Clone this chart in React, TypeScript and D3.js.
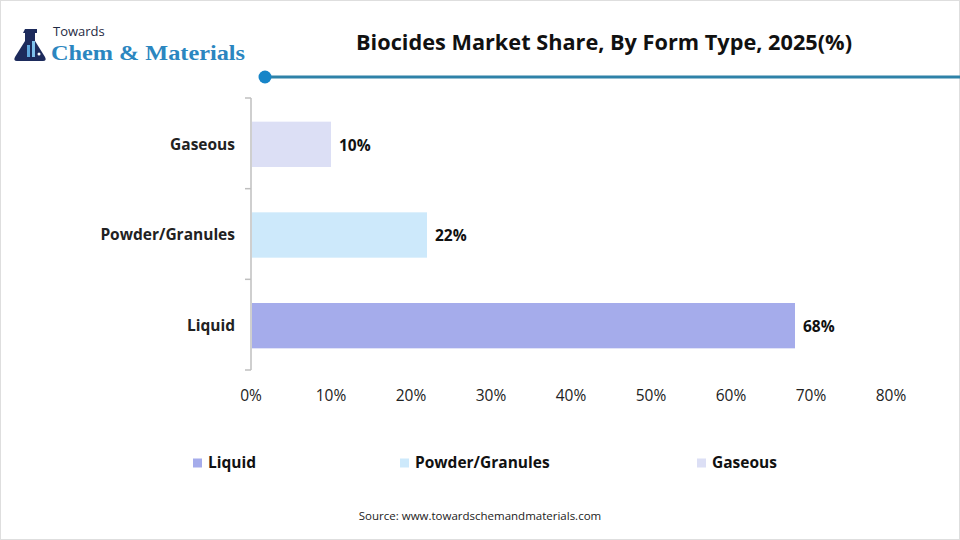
import React, { useEffect, useRef } from 'react';
import * as d3 from 'd3';

// chart data
const categories = ['Liquid', 'Powder/Granules', 'Gaseous'];
const shares = [68, 22, 10];
const barColors = ['#a5aceb', '#cde9fb', '#dcdff5'];
const xTicks = [0, 10, 20, 30, 40, 50, 60, 70, 80];

const FONT = "'Open Sans', 'Noto Sans', sans-serif";

const App: React.FC = () => {
  const ref = useRef<SVGSVGElement>(null);

  useEffect(() => {
    if (!ref.current) return;
    const svg = d3.select(ref.current);
    svg.selectAll('*').remove();

    const width = 960;
    const height = 540;

    svg.append('rect')
      .attr('x', 0.5).attr('y', 0.5)
      .attr('width', width - 1).attr('height', height - 1)
      .attr('fill', '#fff').attr('stroke', '#dedede');

    // logo
    const logo = svg.append('g');
    logo.append('path')
      .attr('d', 'M25,29 h12 v4 h-2 v8 l10,16 q2,4 -2,4 h-26 q-4,0 -2,-4 l10,-16 v-8 h-2 z')
      .attr('fill', '#1d2b5c');
    logo.append('rect').attr('x', 27).attr('y', 45).attr('width', 3).attr('height', 12).attr('fill', '#5fa8de');
    logo.append('rect').attr('x', 32).attr('y', 41).attr('width', 3).attr('height', 16).attr('fill', '#7fc0ea');
    logo.append('circle').attr('cx', 39).attr('cy', 54).attr('r', 1.5).attr('fill', '#fff');
    logo.append('text')
      .attr('x', 53).attr('y', 36)
      .attr('font-family', FONT).attr('font-size', 13)
      .attr('fill', '#1f2a44')
      .text('Towards');
    logo.append('text')
      .attr('x', 51).attr('y', 60)
      .attr('font-family', "'Liberation Serif', 'DejaVu Serif', serif")
      .attr('font-weight', 'bold').attr('font-size', 22)
      .attr('fill', '#2b86c0')
      .attr('textLength', 194).attr('lengthAdjust', 'spacingAndGlyphs')
      .text('Chem & Materials');

    // title + rule
    svg.append('text')
      .attr('x', 604).attr('y', 50)
      .attr('text-anchor', 'middle')
      .attr('font-family', FONT).attr('font-weight', 'bold').attr('font-size', 20.5)
      .attr('fill', '#111')
      .attr('textLength', 496).attr('lengthAdjust', 'spacingAndGlyphs')
      .text('Biocides Market Share, By Form Type, 2025(%)');
    svg.append('line')
      .attr('x1', 265).attr('x2', width).attr('y1', 77).attr('y2', 77)
      .attr('stroke', '#2e82a8').attr('stroke-width', 3);
    svg.append('circle')
      .attr('cx', 265).attr('cy', 77).attr('r', 6.5)
      .attr('fill', '#1785c8');

    // plot area
    const x = d3.scaleLinear().domain([0, 80]).range([251, 891]);
    const y = d3.scaleBand<string>()
      .domain([...categories].reverse())
      .range([98, 370])
      .paddingInner(0.5)
      .paddingOuter(0.25);

    const axisG = svg.append('g').attr('transform', 'translate(251,0)');
    axisG.append('line')
      .attr('x1', 0).attr('x2', 0).attr('y1', 98).attr('y2', 370)
      .attr('stroke', '#bfbfbf').attr('stroke-width', 1.5);
    const bandH = (370 - 98) / categories.length;
    const bounds = d3.range(categories.length + 1).map(i => 98 + i * bandH);
    axisG.selectAll('line.sep')
      .data(bounds)
      .enter()
      .append('line')
      .attr('class', 'sep')
      .attr('x1', -6).attr('x2', 0)
      .attr('y1', d => d).attr('y2', d => d)
      .attr('stroke', '#bfbfbf').attr('stroke-width', 1.5);

    // category labels
    svg.selectAll('text.cat')
      .data(categories)
      .enter()
      .append('text')
      .attr('class', 'cat')
      .attr('x', 235)
      .attr('y', d => (y(d) as number) + y.bandwidth() / 2 + 1)
      .attr('dy', '0.35em')
      .attr('text-anchor', 'end')
      .attr('font-family', FONT).attr('font-weight', 'bold').attr('font-size', 15.5)
      .attr('fill', '#222')
      .text(d => d);

    // bars
    svg.selectAll('rect.bar')
      .data(categories)
      .enter()
      .append('rect')
      .attr('class', 'bar')
      .attr('x', x(0) + 1)
      .attr('y', d => (y(d) as number) + 1)
      .attr('width', (_, i) => x(shares[i]) - x(0) - 1)
      .attr('height', y.bandwidth())
      .attr('fill', (_, i) => barColors[i]);

    // value labels
    svg.selectAll('text.val')
      .data(categories)
      .enter()
      .append('text')
      .attr('class', 'val')
      .attr('x', (_, i) => x(shares[i]) + 8)
      .attr('y', d => (y(d) as number) + y.bandwidth() / 2 + 2)
      .attr('dy', '0.35em')
      .attr('font-family', FONT).attr('font-weight', 'bold').attr('font-size', 15.5)
      .attr('fill', '#111')
      .text((_, i) => `${shares[i]}%`);

    // x tick labels
    svg.selectAll('text.xt')
      .data(xTicks)
      .enter()
      .append('text')
      .attr('class', 'xt')
      .attr('x', d => x(d))
      .attr('y', 401)
      .attr('text-anchor', 'middle')
      .attr('font-family', FONT).attr('font-size', 15.5)
      .attr('fill', '#222')
      .text(d => `${d}%`);

    // legend
    const legendX = [193, 400, 697];
    const legend = svg.selectAll('g.leg')
      .data(categories)
      .enter()
      .append('g')
      .attr('class', 'leg')
      .attr('transform', (_, i) => `translate(${legendX[i]},463)`);
    legend.append('rect')
      .attr('x', 0).attr('y', -4.5)
      .attr('width', 9).attr('height', 9)
      .attr('fill', (_, i) => barColors[i]);
    legend.append('text')
      .attr('x', 15).attr('y', 0)
      .attr('dy', '0.35em')
      .attr('font-family', FONT).attr('font-weight', 'bold').attr('font-size', 15.5)
      .attr('fill', '#111')
      .text(d => d);

    // source
    svg.append('text')
      .attr('x', 480).attr('y', 520)
      .attr('text-anchor', 'middle')
      .attr('font-family', FONT).attr('font-size', 11.5)
      .attr('fill', '#222')
      .text('Source: www.towardschemandmaterials.com');
  }, []);

  return (
    <svg
      ref={ref}
      width={960}
      height={540}
      style={{ position: 'absolute', left: 0, top: 0, display: 'block' }}
    />
  );
};

export default App;
